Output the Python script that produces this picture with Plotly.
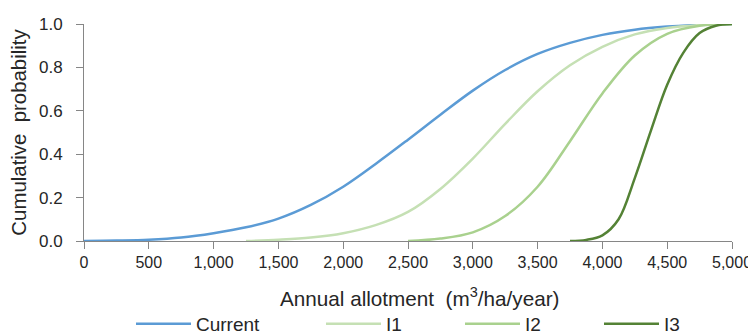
import plotly.graph_objects as go

# ---- data ----
x_current = [0, 250, 500, 750, 1000, 1250, 1500, 1750, 2000, 2250, 2500, 2750,
             3000, 3250, 3500, 3750, 4000, 4250, 4500, 4750, 5000]
y_current = [0.0, 0.002, 0.006, 0.016, 0.036, 0.063, 0.103, 0.166, 0.25, 0.355, 0.467,
             0.582, 0.693, 0.788, 0.862, 0.913, 0.95, 0.974, 0.988, 0.996, 1.0]

x_i1 = [1250, 1500, 1750, 2000, 2250, 2500, 2750, 3000, 3250, 3500, 3750, 4000,
        4250, 4500, 4750, 5000]
y_i1 = [0.0, 0.006, 0.016, 0.036, 0.073, 0.134, 0.24, 0.38, 0.54, 0.69, 0.81,
        0.895, 0.952, 0.982, 0.995, 1.0]

x_i2 = [2500, 2750, 3000, 3250, 3500, 3750, 4000, 4250, 4500, 4750, 5000]
y_i2 = [0.0, 0.011, 0.04, 0.115, 0.25, 0.46, 0.68, 0.855, 0.955, 0.992, 1.0]

x_i3 = [3750, 3875, 4000, 4125, 4250, 4375, 4500, 4625, 4750, 4875, 5000]
y_i3 = [0.0, 0.005, 0.026, 0.10, 0.29, 0.51, 0.72, 0.868, 0.958, 0.992, 1.0]

series_names = ["Current", "I1", "I2", "I3"]
series_colors = ["#5B9BD5", "#C5E0B4", "#A9D18E", "#548235"]
x_ticks = [0, 500, 1000, 1500, 2000, 2500, 3000, 3500, 4000, 4500, 5000]
y_ticks = [0.0, 0.2, 0.4, 0.6, 0.8, 1.0]
x_title = "Annual allotment \u00a0(m<sup>3</sup>/ha/year)"
y_title = "Cumulative \u00a0probability"

FONT = "Liberation Sans, Arial, sans-serif"
TXT = "#262626"
AX = "#868686"

fig = go.Figure()
data = [(x_current, y_current), (x_i1, y_i1), (x_i2, y_i2), (x_i3, y_i3)]
legend_ids = ["legend", "legend2", "legend3", "legend4"]
for (xs, ys), name, col, lg in zip(data, series_names, series_colors, legend_ids):
    fig.add_trace(go.Scatter(
        x=xs, y=ys, name=name, mode="lines",
        line=dict(color=col, width=2.5, shape="spline", smoothing=1.0),
        legend=lg, cliponaxis=False,
    ))

# the page body adds an 8px offset, so the figure is 8px smaller than the window
W, H = 748, 326
legend_x = [123, 313, 452, 591]  # left edges, px (figure coords)
common_legend = dict(orientation="h", xref="container", yref="container",
                     yanchor="top", xanchor="left", y=1 - 297 / H,
                     font=dict(family=FONT, size=19, color=TXT),
                     bgcolor="rgba(0,0,0,0)", itemwidth=55)
layout_legends = {}
for lg, lx in zip(legend_ids, legend_x):
    layout_legends[lg] = dict(common_legend, x=lx / W)

fig.update_layout(
    width=W, height=H,
    margin=dict(l=76, r=24, t=16, b=93, autoexpand=False),
    paper_bgcolor="white", plot_bgcolor="white",
    font=dict(family=FONT, color=TXT),
    showlegend=True,
    **layout_legends,
    xaxis=dict(
        range=[0, 5000], tickvals=x_ticks, tickformat=",d",
        showgrid=False, zeroline=False, showline=True, linecolor=AX, linewidth=1,
        ticks="outside", ticklen=7, tickcolor=AX, tickwidth=1,
        tickfont=dict(family=FONT, size=16, color=TXT),
        ticklabelstandoff=0, layer="below traces", automargin=False,
    ),
    yaxis=dict(
        range=[0, 1], tickvals=y_ticks, tickformat=".1f",
        showgrid=False, zeroline=False, showline=True, linecolor=AX, linewidth=1,
        ticks="outside", ticklen=7, tickcolor=AX, tickwidth=1,
        tickfont=dict(family=FONT, size=17, color=TXT),
        ticklabelstandoff=10, layer="below traces", automargin=False,
        title=dict(text=y_title,
                   font=dict(family=FONT, size=20.4, color=TXT), standoff=12),
    ),
    annotations=[dict(
        text=x_title, xref="paper", yref="paper", x=0.517, y=-0.258,
        xanchor="center", yanchor="middle", showarrow=False,
        font=dict(family=FONT, size=20.7, color=TXT),
    )],
)

fig.write_html("out.html")
